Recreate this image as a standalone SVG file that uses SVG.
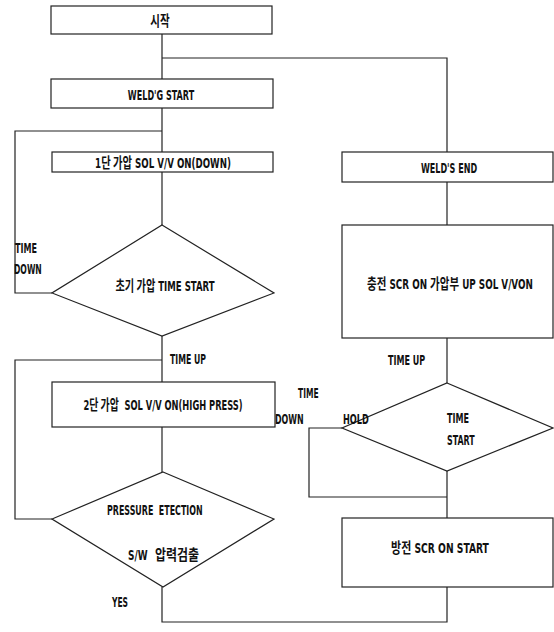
<svg xmlns="http://www.w3.org/2000/svg" width="554" height="632" viewBox="0 0 554 632">
<style>
.b{fill:#fff;stroke:#222;stroke-width:1.2}
.c{fill:none;stroke:#222;stroke-width:1.2}
text{font-family:"DejaVu Sans Condensed","Liberation Sans","Noto Sans CJK KR",sans-serif;font-weight:bold;font-size:14px;fill:#111}
.k{font-family:"Noto Sans CJK KR",sans-serif;font-size:15px}
.m{text-anchor:middle}
</style>
<rect width="554" height="632" fill="#fff"/>
<g id="connectors">
<path class="c" d="M162,34 V79 M162,58 H447 V152"/>
<path class="c" d="M162,108 V152 M162,131 H15 V293 H52"/>
<path class="c" d="M162,172 V225"/>
<path class="c" d="M162,336 V382 M162,360 H15 V519 H52"/>
<path class="c" d="M162,427 V472"/>
<path class="c" d="M162,587 V622 H447 V587"/>
<path class="c" d="M447,182 V225"/>
<path class="c" d="M447,338 V383"/>
<path class="c" d="M447,471 V518 M342,428 H309 V497 H447"/>
</g>
<g id="start"><rect class="b" x="51" y="6" width="221" height="28"/><text class="m k" transform="translate(160,26) scale(0.7,1)">시작</text></g>
<g id="weldg-start"><rect class="b" x="51" y="79" width="222" height="29"/><text class="m" transform="translate(161,100) scale(0.64,1)">WELD'G START</text></g>
<g id="stage1"><rect class="b" x="52" y="152" width="221" height="20"/><text class="m" transform="translate(163,168) scale(0.69,1)">1<tspan class="k">단 가압</tspan> SOL V/V ON(DOWN)</text></g>
<g id="init-time"><polygon class="b" points="162,225 274,293 162,336 52,293"/><text class="m" transform="translate(165,291) scale(0.68,1)"><tspan class="k">초기 가압</tspan> TIME START</text></g>
<text transform="translate(15,253) scale(0.64,1)">TIME</text>
<text transform="translate(14,274) scale(0.61,1)">DOWN</text>
<text transform="translate(170,364) scale(0.62,1)">TIME UP</text>
<g id="stage2"><rect class="b" x="52" y="382" width="223" height="45"/><text class="m" transform="translate(163,410) scale(0.66,1)">2<tspan class="k">단 가압</tspan>&#160; SOL V/V ON(HIGH PRESS)</text></g>
<g id="pressure"><polygon class="b" points="163,472 274,519 163,587 52,519"/><text transform="translate(107,515) scale(0.63,1)">PRESSURE&#160; ETECTION</text><text transform="translate(128,560) scale(0.71,1)">S/W</text><text class="k" transform="translate(155,560) scale(0.8,1)">압력검출</text></g>
<text transform="translate(112,607) scale(0.6,1)">YES</text>
<g id="welds-end"><rect class="b" x="342" y="152" width="211" height="30"/><text class="m" transform="translate(449,173) scale(0.64,1)">WELD'S END</text></g>
<g id="charge"><rect class="b" x="342" y="225" width="211" height="113"/><text class="m" transform="translate(450,289) scale(0.7,1)"><tspan class="k">충전</tspan> SCR ON <tspan class="k">가압부</tspan> UP SOL V/VON</text></g>
<text transform="translate(388,365) scale(0.64,1)">TIME UP</text>
<g id="hold-time"><polygon class="b" points="447,383 553,428 447,471 342,428"/><text transform="translate(447,423) scale(0.64,1)">TIME</text><text transform="translate(447,445) scale(0.63,1)">START</text></g>
<text transform="translate(298,398) scale(0.6,1)">TIME</text>
<text transform="translate(275,424) scale(0.63,1)">DOWN</text>
<text transform="translate(343,424) scale(0.65,1)">HOLD</text>
<g id="discharge"><rect class="b" x="342" y="518" width="211" height="69"/><text class="m" transform="translate(440,553) scale(0.73,1)"><tspan class="k">방전</tspan> SCR ON START</text></g>
</svg>
